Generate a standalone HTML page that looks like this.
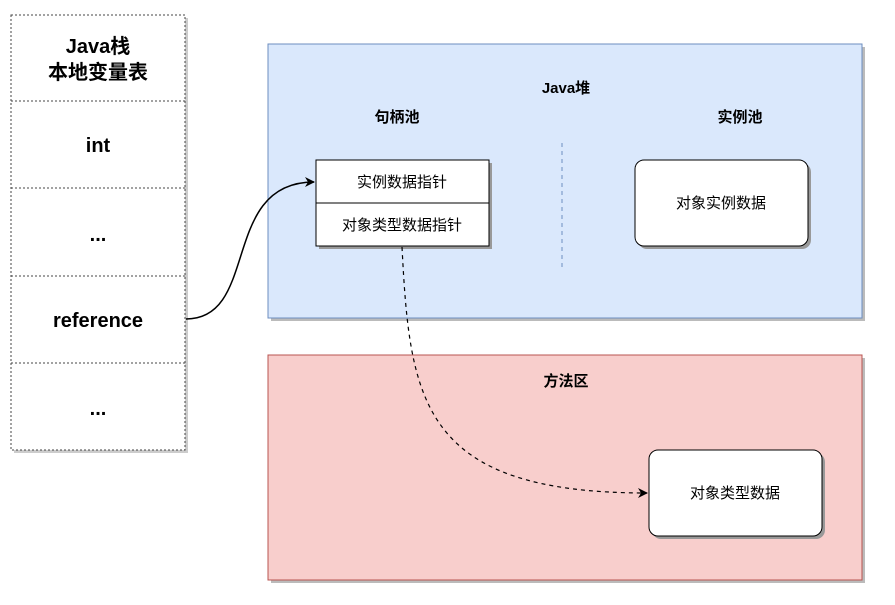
<html><body style="margin:0;background:#fff">
<svg width="895" height="605" xmlns="http://www.w3.org/2000/svg" style="font-family:'Liberation Sans','Noto Sans CJK SC',sans-serif">
<defs><marker id="a" markerWidth="10" markerHeight="10" refX="9" refY="5" orient="auto" markerUnits="userSpaceOnUse"><path d="M0,0 L10,5 L0,10 L3,5 z" fill="#000"/></marker></defs>
<rect x="14" y="18" width="174" height="435" fill="#ccc"/>
<rect x="11" y="15" width="174" height="435" fill="#fff" stroke="#444" stroke-dasharray="2,2"/>
<g stroke="#444" stroke-dasharray="2,2"><line x1="11" y1="101" x2="185" y2="101"/><line x1="11" y1="188" x2="185" y2="188"/><line x1="11" y1="276" x2="185" y2="276"/><line x1="11" y1="363" x2="185" y2="363"/></g>
<g font-weight="bold" font-size="20" text-anchor="middle"><text x="98" y="53">Java栈</text><text x="98" y="79">本地变量表</text><text x="98" y="152">int</text><text x="98" y="241">...</text><text x="98" y="327">reference</text><text x="98" y="415">...</text></g>
<rect x="271" y="47" width="594" height="274" fill="#bbb"/>
<rect x="268" y="44" width="594" height="274" fill="#dae8fc" stroke="#6c8ebf"/>
<rect x="271" y="358" width="594" height="225" fill="#bbb"/>
<rect x="268" y="355" width="594" height="225" fill="#f8cecc" stroke="#b85450"/>
<g font-weight="bold" font-size="15" text-anchor="middle"><text x="566" y="93">Java堆</text><text x="397" y="122">句柄池</text><text x="740" y="122">实例池</text><text x="566" y="386">方法区</text></g>
<line x1="562" y1="143" x2="562" y2="268" stroke="#6c8ebf" stroke-dasharray="4,4"/>
<rect x="319" y="163" width="173" height="86" fill="#999"/>
<rect x="316" y="160" width="173" height="43" fill="#fff" stroke="#000"/>
<rect x="316" y="203" width="173" height="43" fill="#fff" stroke="#000"/>
<rect x="638" y="163" width="173" height="86" rx="9" fill="#999"/>
<rect x="635" y="160" width="173" height="86" rx="9" fill="#fff" stroke="#000"/>
<rect x="652" y="453" width="173" height="86" rx="9" fill="#999"/>
<rect x="649" y="450" width="173" height="86" rx="9" fill="#fff" stroke="#000"/>
<g font-size="15" text-anchor="middle"><text x="402" y="187">实例数据指针</text><text x="402" y="230">对象类型数据指针</text><text x="721" y="208">对象实例数据</text><text x="735" y="498">对象类型数据</text></g>
<path d="M186,319 C260,319 220,182 314,182" fill="none" stroke="#000" stroke-width="1.5" marker-end="url(#a)"/>
<path d="M402,247 C410,400 420,493 647,493" fill="none" stroke="#000" stroke-width="1.2" stroke-dasharray="4,4" marker-end="url(#a)"/>
</svg>
</body></html>
